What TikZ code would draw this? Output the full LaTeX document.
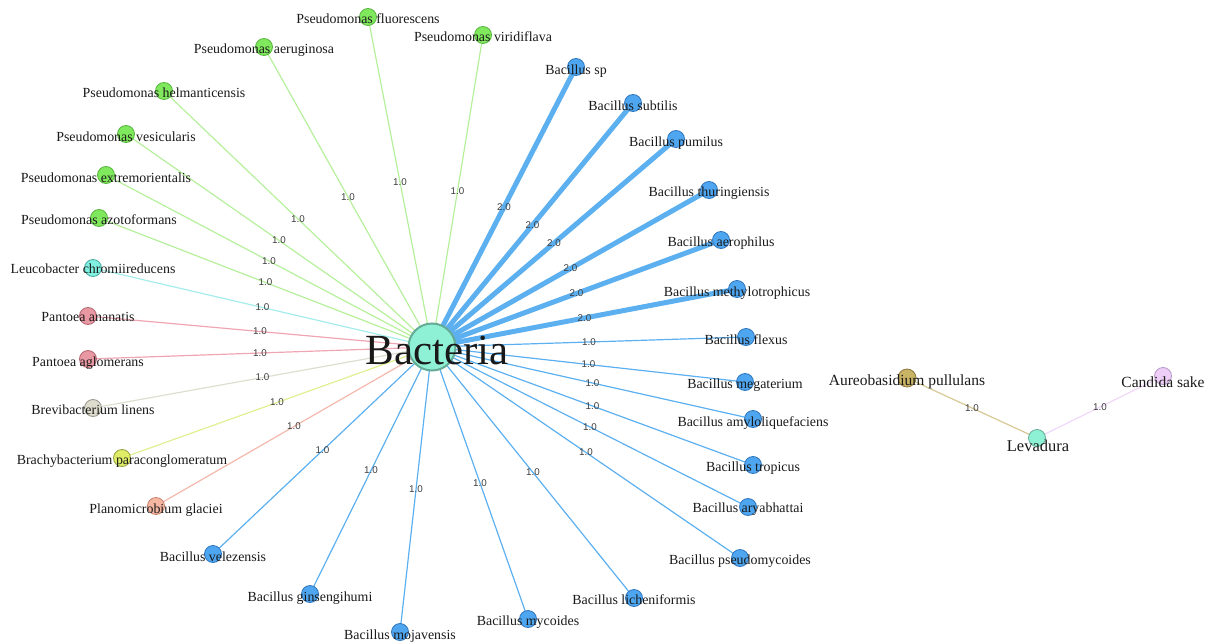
\documentclass[tikz,border=0pt]{standalone}
\usepackage{fontspec}
\setmainfont{Liberation Serif}
\newfontfamily\edgefont{Liberation Sans}
\usetikzlibrary{backgrounds}

% node fills, borders and edge colours
\definecolor{gnF}{RGB}{128,232,92}  \definecolor{gnD}{RGB}{88,180,64}   \definecolor{gnE}{RGB}{182,240,156}
\definecolor{blF}{RGB}{78,166,240}  \definecolor{blD}{RGB}{48,118,188}  \definecolor{blE}{RGB}{92,176,240}
\definecolor{hubF}{RGB}{142,240,212}\definecolor{hubD}{RGB}{100,172,150}
\definecolor{cyF}{RGB}{128,240,224} \definecolor{cyD}{RGB}{72,170,160}  \definecolor{cyE}{RGB}{165,236,236}
\definecolor{pkF}{RGB}{232,152,162} \definecolor{pkD}{RGB}{180,102,112} \definecolor{pkE}{RGB}{240,165,178}
\definecolor{gyF}{RGB}{222,220,205} \definecolor{gyD}{RGB}{150,150,140} \definecolor{gyE}{RGB}{222,222,208}
\definecolor{ygF}{RGB}{222,236,104} \definecolor{ygD}{RGB}{150,160,60}  \definecolor{ygE}{RGB}{222,240,146}
\definecolor{slF}{RGB}{245,182,162} \definecolor{slD}{RGB}{200,132,112} \definecolor{slE}{RGB}{245,184,172}
\definecolor{olF}{RGB}{200,180,100} \definecolor{olD}{RGB}{140,120,60}  \definecolor{olE}{RGB}{215,200,150}
\definecolor{lvF}{RGB}{236,206,246} \definecolor{lvD}{RGB}{180,150,200} \definecolor{lvE}{RGB}{240,216,250}
\definecolor{elblC}{RGB}{60,60,60}
\definecolor{txtC}{RGB}{25,25,25}

\tikzset{
  leafnode/.style={circle,inner sep=0pt,minimum size=17pt,line width=0.8pt},
  hubnode/.style={circle,inner sep=0pt,line width=2pt,fill=hubF,draw=hubD},
  green/.style={fill=gnF,draw=gnD},
  blue/.style={fill=blF,draw=blD},
  cyan/.style={fill=cyF,draw=cyD},
  pink/.style={fill=pkF,draw=pkD},
  greyish/.style={fill=gyF,draw=gyD},
  yellowish/.style={fill=ygF,draw=ygD},
  salmon/.style={fill=slF,draw=slD},
  olive/.style={fill=olF,draw=olD},
  lavender/.style={fill=lvF,draw=lvD},
  lbl/.style={inner sep=0pt,font=\fontsize{13.9}{14}\selectfont,text=txtC},
  ylbl/.style={inner sep=0pt,font=\fontsize{15.5}{16}\selectfont,text=txtC},
  elbl/.style={inner sep=0pt,font=\edgefont\fontsize{9.8}{10}\selectfont,text=elblC},
  thin edge/.style={line width=1.2pt},
  thick edge/.style={line width=5pt,draw=blE},
}

% a leaf: circle node plus its name printed over it, a little below its centre
\newcommand\leafn[5]{%
  \node[leafnode,#1] (#2) at (#3) {};
  \node[lbl] (#2-t) at ([yshift=#4pt]#2.center) {#5};}
% a connector between two node centres with its weight at the middle
\newcommand\link[4]{\draw[#1] (#2.center) -- node[elbl]{#4} (#3.center);}

\begin{document}
\begin{tikzpicture}[x=1pt,y=-1pt]
\useasboundingbox (0,0) rectangle (1210,642);

% hub
\node[hubnode,minimum size=47pt] (bac) at (432,347) {};

% Pseudomonas
\leafn{green}{pfl}{368,17}{-2}{Pseudomonas fluorescens}
\leafn{green}{pae}{264,47}{-3}{Pseudomonas aeruginosa}
\leafn{green}{pvi}{483,35}{-2}{Pseudomonas viridiflava}
\leafn{green}{phe}{164,91}{-2}{Pseudomonas helmanticensis}
\leafn{green}{pve}{126,134}{-3}{Pseudomonas vesicularis}
\leafn{green}{pex}{106,175}{-3}{Pseudomonas extremorientalis}
\leafn{green}{paz}{99,218}{-2}{Pseudomonas azotoformans}
% other bacteria on the left
\leafn{cyan}{leu}{93,268}{-1}{Leucobacter chromiireducens}
\leafn{pink}{pan}{88,316}{-1}{Pantoea ananatis}
\leafn{pink}{pag}{88,359}{-4}{Pantoea aglomerans}
\leafn{greyish}{bre}{93,408}{-2}{Brevibacterium linens}
\leafn{yellowish}{bra}{122,458}{-3}{Brachybacterium paraconglomeratum}
\leafn{salmon}{pla}{156,506}{-4}{Planomicrobium glaciei}
% Bacillus
\leafn{blue}{bve}{213,554}{-3}{Bacillus velezensis}
\leafn{blue}{bgi}{310,594}{-4}{Bacillus ginsengihumi}
\leafn{blue}{bmo}{400,632}{-4}{Bacillus mojavensis}
\leafn{blue}{bmy}{528,619}{-3}{Bacillus mycoides}
\leafn{blue}{bli}{634,598}{-2}{Bacillus licheniformis}
\leafn{blue}{bps}{740,558}{-3}{Bacillus pseudomycoides}
\leafn{blue}{bar}{748,507}{-2}{Bacillus aryabhattai}
\leafn{blue}{btr}{753,465}{-3}{Bacillus tropicus}
\leafn{blue}{bam}{753,419}{-4}{Bacillus amyloliquefaciens}
\leafn{blue}{bme}{745,382}{-3}{Bacillus megaterium}
\leafn{blue}{bfl}{746,337}{-3}{Bacillus flexus}
\leafn{blue}{bmt}{737,289}{-4}{Bacillus methylotrophicus}
\leafn{blue}{bae}{721,240}{-3}{Bacillus aerophilus}
\leafn{blue}{bth}{709,190}{-3}{Bacillus thuringiensis}
\leafn{blue}{bpu}{676,139}{-4}{Bacillus pumilus}
\leafn{blue}{bsu}{633,103}{-3}{Bacillus subtilis}
\leafn{blue}{bsp}{576,67}{-4}{Bacillus sp}

\node[lbl,font=\fontsize{43}{43}\selectfont] (bac-t) at (437,350) {Bacteria};

% yeast component
\node[leafnode,olive,minimum size=18pt] (aur) at (907,378) {};
\node[ylbl] (aur-t) at (907,382) {Aureobasidium pullulans};
\node[leafnode,lavender] (can) at (1163,376) {};
\node[ylbl] (can-t) at (1163,382) {Candida sake};
\node[leafnode,fill=hubF,draw=hubD] (lev) at (1037,438) {};
\node[ylbl,font=\fontsize{16.5}{17}\selectfont] (lev-t) at (1038,446) {Levadura};

\begin{scope}[on background layer]
\link{thin edge,draw=gnE}{bac}{pfl}{1.0}
\link{thin edge,draw=gnE}{bac}{pae}{1.0}
\link{thin edge,draw=gnE}{bac}{pvi}{1.0}
\link{thin edge,draw=gnE}{bac}{phe}{1.0}
\link{thin edge,draw=gnE}{bac}{pve}{1.0}
\link{thin edge,draw=gnE}{bac}{pex}{1.0}
\link{thin edge,draw=gnE}{bac}{paz}{1.0}
\link{thin edge,draw=cyE}{bac}{leu}{1.0}
\link{thin edge,draw=pkE}{bac}{pan}{1.0}
\link{thin edge,draw=pkE}{bac}{pag}{1.0}
\link{thin edge,draw=gyE}{bac}{bre}{1.0}
\link{thin edge,draw=ygE}{bac}{bra}{1.0}
\link{thin edge,draw=slE}{bac}{pla}{1.0}
\link{thin edge,draw=blE}{bac}{bve}{1.0}
\link{thin edge,draw=blE}{bac}{bgi}{1.0}
\link{thin edge,draw=blE}{bac}{bmo}{1.0}
\link{thin edge,draw=blE}{bac}{bmy}{1.0}
\link{thin edge,draw=blE}{bac}{bli}{1.0}
\link{thin edge,draw=blE}{bac}{bps}{1.0}
\link{thin edge,draw=blE}{bac}{bar}{1.0}
\link{thin edge,draw=blE}{bac}{btr}{1.0}
\link{thin edge,draw=blE}{bac}{bam}{1.0}
\link{thin edge,draw=blE}{bac}{bme}{1.0}
\link{thin edge,draw=blE}{bac}{bfl}{1.0}
\link{thick edge}{bac}{bmt}{2.0}
\link{thick edge}{bac}{bae}{2.0}
\link{thick edge}{bac}{bth}{2.0}
\link{thick edge}{bac}{bpu}{2.0}
\link{thick edge}{bac}{bsu}{2.0}
\link{thick edge}{bac}{bsp}{2.0}
\link{thin edge,draw=olE}{aur}{lev}{1.0}
\link{thin edge,draw=lvE}{can}{lev}{1.0}
\end{scope}
\end{tikzpicture}
\end{document}
